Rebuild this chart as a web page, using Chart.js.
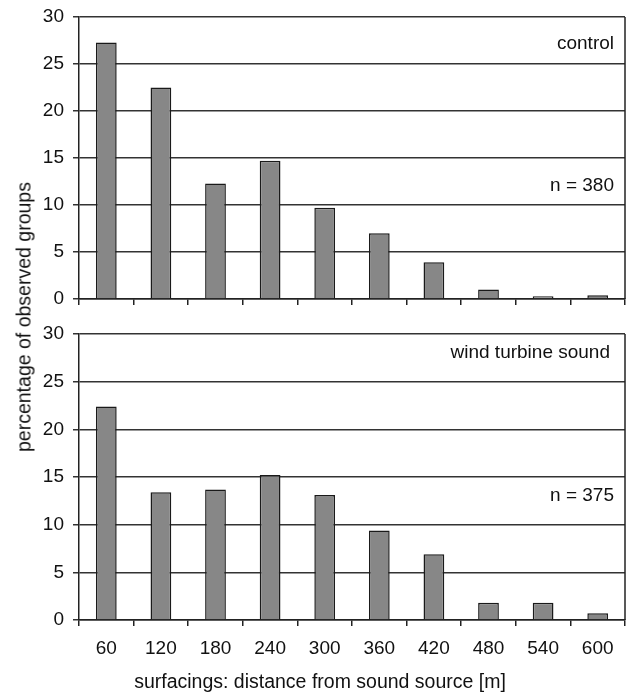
<!DOCTYPE html>
<html>
<head>
<meta charset="utf-8">
<script src="https://cdn.jsdelivr.net/npm/chart.js@4"></script>
<style>
  body { margin: 0; background: #fff; }
  #wrap { position: relative; width: 628px; height: 698px; font-family: "Liberation Sans", Arial, sans-serif; color: #111; }
  .panel { position: absolute; left: 0; width: 628px; }
  #ytitle {
    position: absolute; left: 24px; top: 317px;
    transform: translate(-50%, -50%) rotate(-90deg);
    white-space: nowrap; font-size: 19.5px;
  }
  #xtitle {
    position: absolute; left: 320px; top: 681px;
    transform: translate(-50%, -50%);
    white-space: nowrap; font-size: 19.5px;
  }
</style>
</head>
<body>
<div id="wrap">
  <div class="panel" style="top:0;height:310px"><canvas id="topChart" width="628" height="310"></canvas></div>
  <div class="panel" style="top:310px;height:388px"><canvas id="bottomChart" width="628" height="388"></canvas></div>
  <div id="ytitle">percentage of observed groups</div>
  <div id="xtitle"></div>
</div>
<script>
// data
const distances = ['60', '120', '180', '240', '300', '360', '420', '480', '540', '600'];
const controlPct = [27.3, 22.5, 12.3, 14.7, 9.7, 7.0, 3.9, 1.0, 0.3, 0.4];
const turbinePct = [22.4, 13.4, 13.7, 15.2, 13.1, 9.4, 6.9, 1.8, 1.8, 0.7];
const yMax = 30;
const yStep = 5;
const xTitle = 'surfacings: distance from sound source [m]';

document.getElementById('xtitle').textContent = xTitle;

const font = "'Liberation Sans', Arial, sans-serif";

// texts inside each panel + right frame line
const panelText = {
  id: 'panelText',
  afterDraw(chart, args, opts) {
    const {ctx, chartArea} = chart;
    const y = chart.scales.y;
    ctx.save();
    ctx.strokeStyle = '#222';
    ctx.lineWidth = 1.5;
    ctx.beginPath();
    ctx.moveTo(chartArea.right, chartArea.top);
    ctx.lineTo(chartArea.right, chartArea.bottom);
    ctx.stroke();
    ctx.fillStyle = '#111';
    ctx.font = '19px ' + font;
    ctx.textAlign = 'right';
    ctx.textBaseline = 'middle';
    (opts.lines || []).forEach(l => {
      ctx.fillText(l.text, chartArea.right - l.dx, y.getPixelForValue(l.value));
    });
    ctx.restore();
  }
};

function makeChart(id, values, lines, isBottom) {
  const ctx = document.getElementById(id).getContext('2d');
  return new Chart(ctx, {
    type: 'bar',
    data: {
      labels: distances,
      datasets: [{
        data: values,
        backgroundColor: '#878787',
        borderColor: '#1a1a1a',
        borderWidth: 1.5,
        categoryPercentage: 1,
        barPercentage: 0.38
      }]
    },
    options: {
      responsive: false,
      animation: false,
      layout: { padding: { top: isBottom ? 24 : 17, right: 3, left: 0, bottom: 0 } },
      plugins: {
        legend: { display: false },
        tooltip: { enabled: false },
        panelText: { lines: lines }
      },
      scales: {
        x: {
          afterFit(s) { s.height = isBottom ? 78 : 11; },
          grid: { offset: true, drawOnChartArea: false, drawTicks: true, tickLength: 6, color: '#222', lineWidth: 1.5 },
          border: { display: true, color: '#222', width: 1.5 },
          ticks: { display: isBottom, color: '#111', font: { size: 19, family: font }, padding: 11, maxRotation: 0 }
        },
        y: {
          min: 0, max: yMax,
          afterFit(s) {
            s.width = 79;
            s.paddingTop = 0;
            s.paddingBottom = 0;
          },
          grid: { color: '#333', lineWidth: 1.5, drawTicks: true, tickLength: 6 },
          border: { display: true, color: '#222', width: 1.5 },
          ticks: { stepSize: yStep, color: '#111', font: { size: 19, family: font }, padding: 9 }
        }
      }
    },
    plugins: [panelText]
  });
}

makeChart('topChart', controlPct, [
  { text: 'control', value: 27.2, dx: 11 },
  { text: 'n = 380', value: 12.0, dx: 11 }
], false);

makeChart('bottomChart', turbinePct, [
  { text: 'wind turbine sound', value: 28.0, dx: 15 },
  { text: 'n = 375', value: 13.0, dx: 11 }
], true);
</script>
</body>
</html>
